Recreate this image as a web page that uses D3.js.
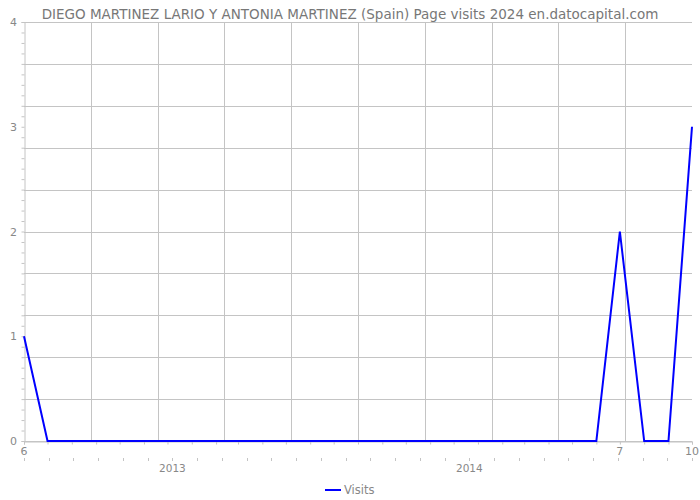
<!DOCTYPE html>
<html>
<head>
<meta charset="utf-8">
<script src="https://cdn.jsdelivr.net/npm/d3@7"></script>
<style>
  html, body { margin: 0; padding: 0; background: #fff; }
  svg { display: block; font-family: "DejaVu Sans", sans-serif; }
</style>
</head>
<body>
<svg id="chart" width="700" height="500"></svg>
<script>
const title = "DIEGO MARTINEZ LARIO Y ANTONIA MARTINEZ (Spain) Page visits 2024 en.datocapital.com";
const months = [
  "2012-06","2012-07","2012-08","2012-09","2012-10","2012-11","2012-12",
  "2013-01","2013-02","2013-03","2013-04","2013-05","2013-06","2013-07",
  "2013-08","2013-09","2013-10","2013-11","2013-12","2014-01","2014-02",
  "2014-03","2014-04","2014-05","2014-06","2014-07","2014-08","2014-09","2014-10"
];
const visits = [1,0,0,0,0,0,0,0,0,0,0,0,0,0,0,0,0,0,0,0,0,0,0,0,0,2,0,0,3];
const seriesName = "Visits";
const xLabelMonths = ["2012-06","2014-07","2014-10"];
const xLabels = ["6","7","10"];
const yTickValues = [0,1,2,3,4];
const yearLabels = ["2013","2014"];
const yearSlots = [6,18];
const yearSlotCount = 28;

const parse = d3.utcParse("%Y-%m");
const data = months.map((m,i) => ({date: parse(m), value: visits[i]}));

const svg = d3.select("#chart");
const L = 24, R = 692, T = 22, B = 441;
const gridColor = "#c4c4c4", textColor = "#888";

const x = d3.scaleUtc().domain([parse(months[0]), parse(months[months.length-1])]).range([L, R]);
const y = d3.scaleLinear().domain([0, 4]).range([B, T]);
const frac = d3.scaleLinear().domain([0, 1]).range([L, R]);
const slot = d3.scaleLinear().domain([0, yearSlotCount - 1]).range([L, R]);

// title
svg.append("text").attr("x", 350).attr("y", 19).attr("text-anchor", "middle")
  .attr("font-size", 13.5).attr("fill", "#777").text(title);

// horizontal gridlines
svg.append("g").selectAll("line").data(d3.range(0, 4.001, 0.4)).join("line")
  .attr("x1", L).attr("x2", R).attr("y1", d => Math.round(y(d)) + 0.5).attr("y2", d => Math.round(y(d)) + 0.5)
  .attr("stroke", gridColor).attr("stroke-width", 1);

// vertical gridlines
svg.append("g").selectAll("line").data(d3.range(1, 10)).join("line")
  .attr("x1", d => Math.round(frac(d / 10)) + 0.5).attr("x2", d => Math.round(frac(d / 10)) + 0.5)
  .attr("y1", T).attr("y2", B)
  .attr("stroke", gridColor).attr("stroke-width", 1);

// y axis
const yAxis = svg.append("g").attr("transform", `translate(${L + 0.5},0)`)
  .call(d3.axisLeft(y).tickValues(d3.range(0, 4.001, 0.1)).tickSize(3).tickFormat(""));
yAxis.select(".domain").attr("stroke", gridColor);
yAxis.selectAll(".tick line").attr("stroke", gridColor);
svg.append("g").selectAll("text").data(yTickValues).join("text")
  .attr("x", 17).attr("y", d => y(d) + 4).attr("text-anchor", "end")
  .attr("font-size", 11).attr("fill", textColor).text(d => d);

// x axis (monthly ticks)
const xAxis = svg.append("g").attr("transform", `translate(0,${B + 0.5})`)
  .call(d3.axisBottom(x).ticks(d3.utcMonth.every(1)).tickSize(3).tickFormat(""));
xAxis.select(".domain").attr("stroke", gridColor);
xAxis.selectAll(".tick line").attr("stroke", gridColor);
svg.append("g").selectAll("text").data(xLabelMonths).join("text")
  .attr("x", d => x(parse(d))).attr("y", 455).attr("text-anchor", "middle")
  .attr("font-size", 11).attr("fill", textColor).text((d, i) => xLabels[i]);

// second row ticks + year labels
svg.append("g").selectAll("line").data(d3.range(yearSlotCount)).join("line")
  .attr("x1", d => Math.round(slot(d)) + 0.5).attr("x2", d => Math.round(slot(d)) + 0.5)
  .attr("y1", 458).attr("y2", 461).attr("stroke", gridColor);
svg.append("g").selectAll("text").data(yearLabels).join("text")
  .attr("x", (d, i) => slot(yearSlots[i])).attr("y", 472).attr("text-anchor", "middle")
  .attr("font-size", 10.5).attr("fill", textColor).text(d => d);

// line
const line = d3.line().x(d => x(d.date)).y(d => y(d.value));
svg.append("path").datum(data).attr("d", line)
  .attr("fill", "none").attr("stroke", "#0000ff").attr("stroke-width", 2);

// legend
svg.append("line").attr("x1", 325).attr("x2", 341).attr("y1", 490).attr("y2", 490)
  .attr("stroke", "#0000ff").attr("stroke-width", 2);
svg.append("text").attr("x", 344).attr("y", 494).attr("font-size", 11.5)
  .attr("fill", textColor).text(seriesName);
</script>
</body>
</html>
